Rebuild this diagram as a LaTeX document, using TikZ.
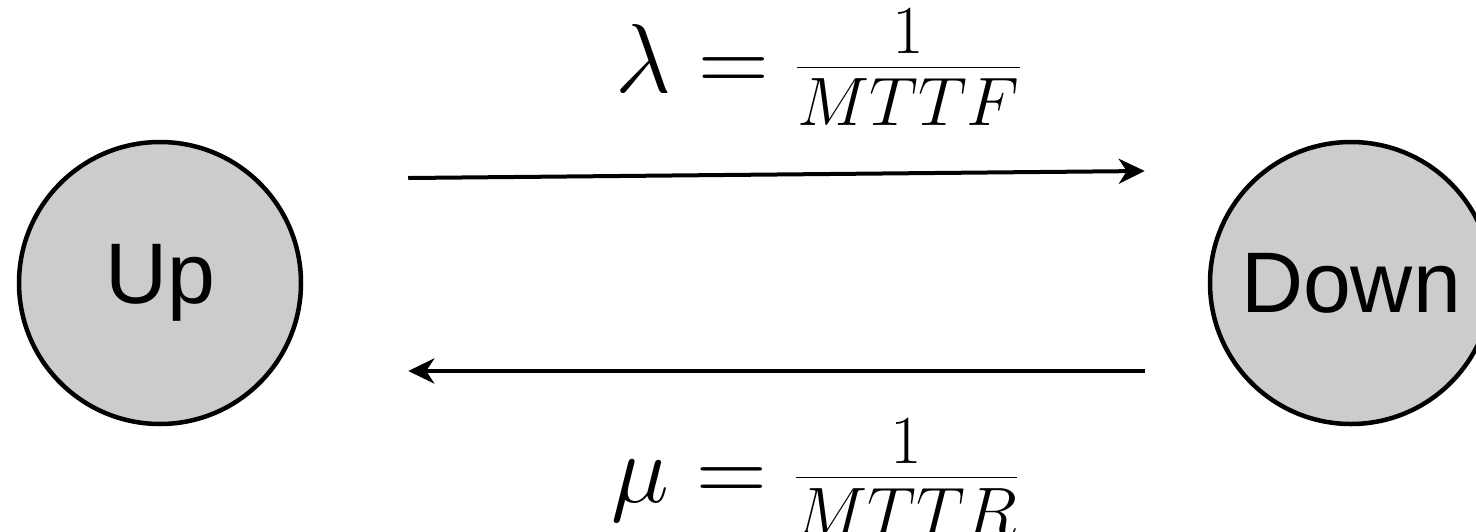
\RequirePackage{fix-cm}
\documentclass[tikz,border=0pt]{standalone}
\usepackage{fontspec}
\setsansfont{Liberation Sans}
\usetikzlibrary{arrows.meta}
\begin{document}
\begin{tikzpicture}[x=1pt,y=-1pt,
  state/.style={circle,draw=black,line width=4.5pt,fill=black!20,minimum size=282pt,inner sep=0pt,
    font=\sffamily\fontsize{86}{100}\selectfont},
  flow/.style={line width=4pt,-{Stealth[length=26pt,width=25pt,inset=8pt]}},
  lbl/.style={font=\fontsize{98}{110}\selectfont,inner sep=0pt,anchor=base}]
\useasboundingbox (0,0) rectangle (1476,531);
\clip (0,0) rectangle (1476,531);
\node[state] (up) at (160,283) {Up};
\node[state] (down) at (1351,283) {Down};
\draw[flow,shorten <=105pt,shorten >=63pt] ([yshift=104pt]up.east) -- ([yshift=112.6pt]down.west);
\draw[flow,shorten <=63pt,shorten >=105pt] ([yshift=-88pt]down.west) -- ([yshift=-88pt]up.east);
\node[lbl] (lam) at (818,92) {$\lambda = \frac{1}{MTTF}$};
\node[lbl] (mu) at (815,502) {$\mu = \frac{1}{MTTR}$};
\end{tikzpicture}
\end{document}
